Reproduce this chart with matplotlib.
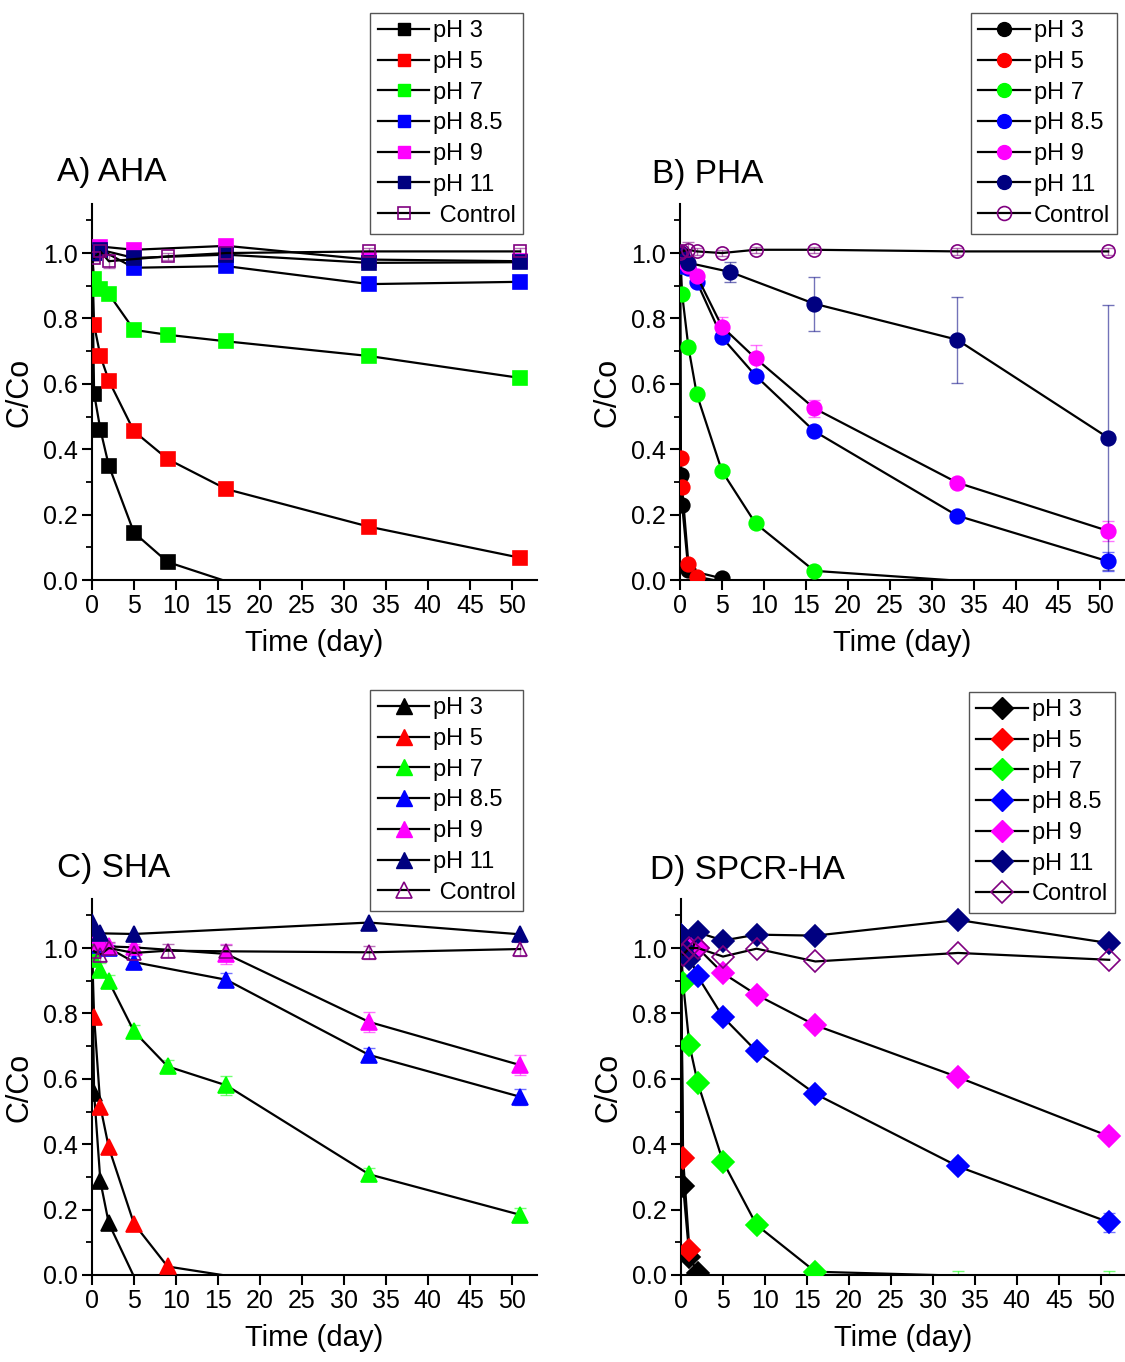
import numpy as np
import matplotlib
matplotlib.use('Agg')
import matplotlib.pyplot as plt
from matplotlib.lines import Line2D

plt.rcParams['font.family'] = ['Liberation Sans Narrow', 'Liberation Sans', 'DejaVu Sans']

nan = np.nan

# --- data (C/Co vs time in days)
labels = ['pH 3', 'pH 5', 'pH 7', 'pH 8.5', 'pH 9', 'pH 11']
colors = ['#000000', '#ff0000', '#00ff00', '#0000ff', '#ff00ff', '#000080']
ctrl_color = '#800080'

# A) AHA
aha_t = [0, 0.25, 1, 2, 5, 9, 16, 33, 51]
aha_ph3 = [1.0, 0.57, 0.46, 0.35, 0.145, 0.055, -0.004, nan, nan]
aha_ph5 = [1.0, 0.78, 0.685, 0.61, 0.455, 0.37, 0.278, 0.163, 0.068]
aha_ph7 = [1.0, 0.92, 0.89, 0.875, 0.765, 0.75, 0.73, 0.685, 0.618]
aha_ph85 = [1.0, 1.0, 1.01, nan, 0.955, nan, 0.96, 0.905, 0.912]
aha_ph9 = [1.0, 1.01, 1.02, nan, 1.01, nan, 1.022, 0.98, 0.975]
aha_ph11 = [1.0, 1.0, 1.01, nan, 0.985, nan, 0.995, 0.97, 0.972]
aha_ctrl = [nan, 0.985, 1.005, 0.975, nan, 0.99, 1.0, 1.005, 1.005]
aha_ctrl_err = [0, 0.01, 0.01, 0.02, 0, 0.01, 0.01, 0.01, 0.01]

# B) PHA
pha_t = [0, 0.1, 0.25, 1, 2, 5, 6, 9, 16, 33, 51]
pha_ph3 = [1.0, 0.32, 0.23, 0.03, nan, 0.005, nan, nan, nan, nan, nan]
pha_ph5 = [1.0, 0.372, 0.283, 0.05, 0.01, -0.005, nan, nan, nan, nan, nan]
pha_ph7 = [1.0, 0.96, 0.875, 0.713, 0.568, 0.333, nan, 0.173, 0.028, -0.002, nan]
pha_ph85 = [1.0, nan, 0.96, 0.955, 0.912, 0.742, nan, 0.625, 0.455, 0.197, 0.057]
pha_ph9 = [1.0, nan, 0.975, 0.96, 0.93, 0.775, nan, 0.678, 0.525, 0.298, 0.15]
pha_ph11 = [1.0, nan, 0.99, 0.97, nan, nan, 0.942, nan, 0.845, 0.735, 0.435]
pha_ctrl = [1.0, nan, 1.005, 1.01, 1.005, 1.0, nan, 1.01, 1.01, 1.005, 1.005]
pha_ph85_err = [0, 0, 0, 0.01, 0.01, 0.01, 0, 0.01, 0.01, 0.01, 0.03]
pha_ph9_err = [0, 0, 0, 0.01, 0.01, 0.03, 0, 0.04, 0.025, 0.01, 0.03]
pha_ph11_err = [0, 0, 0, 0.01, 0, 0, 0.03, 0, 0.083, 0.132, 0.405]
pha_ctrl_err = [0, 0, 0.01, 0.025, 0.01, 0.01, 0, 0.01, 0.01, 0.01, 0.01]

# C) SHA
sha_t = [0, 0.25, 1, 2, 5, 9, 16, 33, 51]
sha_ph3 = [1.0, 0.556, 0.286, 0.158, -0.005, nan, nan, nan, nan]
sha_ph5 = [1.0, 0.79, 0.515, 0.39, 0.157, 0.026, -0.002, nan, nan]
sha_ph7 = [1.0, 0.965, 0.933, 0.898, 0.745, 0.638, 0.58, 0.308, 0.184]
sha_ph85 = [1.05, 1.04, 1.01, 1.0, 0.957, nan, 0.903, 0.673, 0.545]
sha_ph9 = [1.05, 1.04, 1.02, 1.005, 1.002, nan, 0.982, 0.774, 0.642]
sha_ph11 = [1.08, 1.06, 1.045, nan, 1.043, nan, nan, 1.078, 1.042]
sha_ctrl = [nan, 0.99, 0.98, 1.0, 0.985, 0.992, 0.99, 0.987, 0.997]
sha_ph7_err = [0, 0.02, 0.02, 0.02, 0.02, 0.02, 0.03, 0.02, 0.02]
sha_ph85_err = [0, 0.01, 0.01, 0.01, 0.02, 0, 0.02, 0.02, 0.025]
sha_ph9_err = [0, 0.01, 0.01, 0.01, 0.01, 0, 0.03, 0.03, 0.03]
sha_ctrl_err = [0, 0.02, 0.02, 0.02, 0.02, 0.02, 0.02, 0.02, 0.02]

# D) SPCR-HA
spcr_t = [0, 0.25, 1, 2, 5, 9, 16, 33, 51]
spcr_ph3 = [1.0, 0.272, 0.056, 0.007, nan, nan, nan, nan, nan]
spcr_ph5 = [1.0, 0.357, 0.077, nan, nan, nan, nan, nan, nan]
spcr_ph7 = [1.0, 0.893, 0.704, 0.587, 0.347, 0.153, 0.01, -0.002, -0.002]
spcr_ph85 = [1.04, 1.0, 0.975, 0.913, 0.789, 0.684, 0.554, 0.332, 0.161]
spcr_ph9 = [1.03, 1.02, 1.01, 1.0, 0.923, 0.857, 0.764, 0.605, 0.424]
spcr_ph11 = [1.04, 1.0, 0.965, 1.048, 1.023, 1.041, 1.038, 1.086, 1.015]
spcr_ctrl = [nan, 0.98, 1.0, 1.0, 0.974, 0.998, 0.959, 0.985, 0.964]
spcr_ph7_err = [0, 0, 0, 0, 0, 0, 0.01, 0.015, 0.015]
spcr_ph85_err = [0, 0, 0, 0, 0, 0, 0, 0.01, 0.03]


def plot_series(ax, t, y, color, marker, ms, err=None, filled=True):
    t = np.asarray(t, float)
    y = np.asarray(y, float)
    ok = ~np.isnan(y)
    t, y = t[ok], y[ok]
    if err is not None:
        e = np.asarray(err, float)[ok]
        ax.errorbar(t, y, yerr=e, fmt='none', ecolor=color, alpha=0.55,
                    elinewidth=1.0, capsize=4, capthick=1.0, zorder=2)
    show = list(y >= 0)  # points below the axis are not drawn
    ax.plot(t, y, '-', color='k', lw=1.6, marker=marker, ms=ms,
            mfc=color if filled else 'none', mec=color, mew=1.2,
            markevery=show, zorder=3)


def draw_panel(ax, t, ys, errs, ctrl, ctrl_err, marker, ms, ms_open, title,
               title_xy, leg_xy, ctrl_label, ms_leg):
    for y, c, e in zip(ys, colors, errs):
        plot_series(ax, t, y, c, marker, ms, e)
    plot_series(ax, t, ctrl, ctrl_color, marker, ms_open, ctrl_err, filled=False)

    ax.set_xlim(0, 53)
    ax.set_ylim(0, 1.15)
    ax.set_xticks(np.arange(0, 51, 5))
    ax.set_yticks(np.arange(0, 1.01, 0.2))
    ax.set_yticks(np.arange(0.1, 1.15, 0.2), minor=True)
    ax.yaxis.set_major_formatter(plt.FormatStrFormatter('%.1f'))
    ax.spines['top'].set_visible(False)
    ax.spines['right'].set_visible(False)
    for s in ['left', 'bottom']:
        ax.spines[s].set_linewidth(1.5)
    ax.tick_params(which='major', direction='out', length=7, width=1.5,
                   labelsize=18, pad=3)
    ax.tick_params(which='minor', direction='out', length=4, width=1.3)
    ax.set_xlabel('Time (day)', fontsize=21, labelpad=8)
    ax.set_ylabel('C/Co', fontsize=22, labelpad=6)

    fig.text(title_xy[0] / W, 1 - title_xy[1] / H, title, fontsize=24,
             ha='left', va='center')

    handles = [Line2D([], [], color='k', lw=1.6, marker=marker, ms=ms_leg,
                      mfc=c, mec=c) for c in colors]
    handles.append(Line2D([], [], color='k', lw=1.6, marker=marker, ms=ms_leg,
                          mfc='none', mec=ctrl_color, mew=1.2))
    leg = ax.legend(handles, labels + [ctrl_label], loc='upper right',
                    bbox_to_anchor=(leg_xy[0] / W, 1 - leg_xy[1] / H),
                    bbox_transform=fig.transFigure, fontsize=17,
                    frameon=True, fancybox=False, framealpha=1,
                    edgecolor='#555555', borderpad=0.3, labelspacing=0.37,
                    handlelength=2.2, handletextpad=0.15, borderaxespad=0)
    leg.get_frame().set_linewidth(1.0)


W, H = 1125, 1362
fig = plt.figure(figsize=(W / 100, H / 100), dpi=100)

axA = fig.add_axes([92 / W, 1 - 580 / H, 445 / W, 376 / H])
axB = fig.add_axes([680 / W, 1 - 580 / H, 445 / W, 376 / H])
axC = fig.add_axes([92 / W, 1 - 1275 / H, 445 / W, 376 / H])
axD = fig.add_axes([681 / W, 1 - 1275 / H, 445 / W, 376 / H])

draw_panel(axA, aha_t,
           [aha_ph3, aha_ph5, aha_ph7, aha_ph85, aha_ph9, aha_ph11],
           [None] * 6, aha_ctrl, aha_ctrl_err, 's', 10, 8.5,
           'A) AHA', (57, 173), (523, 13), ' Control', 9)

draw_panel(axB, pha_t,
           [pha_ph3, pha_ph5, pha_ph7, pha_ph85, pha_ph9, pha_ph11],
           [None, None, None, pha_ph85_err, pha_ph9_err, pha_ph11_err],
           pha_ctrl, pha_ctrl_err, 'o', 10.5, 9.5,
           'B) PHA', (652, 175), (1117, 13), 'Control', 10)

draw_panel(axC, sha_t,
           [sha_ph3, sha_ph5, sha_ph7, sha_ph85, sha_ph9, sha_ph11],
           [None, None, sha_ph7_err, sha_ph85_err, sha_ph9_err, None],
           sha_ctrl, sha_ctrl_err, '^', 11.5, 10.5,
           'C) SHA', (57, 868), (523, 690), ' Control', 11)

draw_panel(axD, spcr_t,
           [spcr_ph3, spcr_ph5, spcr_ph7, spcr_ph85, spcr_ph9, spcr_ph11],
           [None, None, spcr_ph7_err, spcr_ph85_err, None, None],
           spcr_ctrl, None, 'D', 11, 11,
           'D) SPCR-HA', (650, 870), (1115, 692), 'Control', 11)

fig.savefig('out.png', dpi=100)
